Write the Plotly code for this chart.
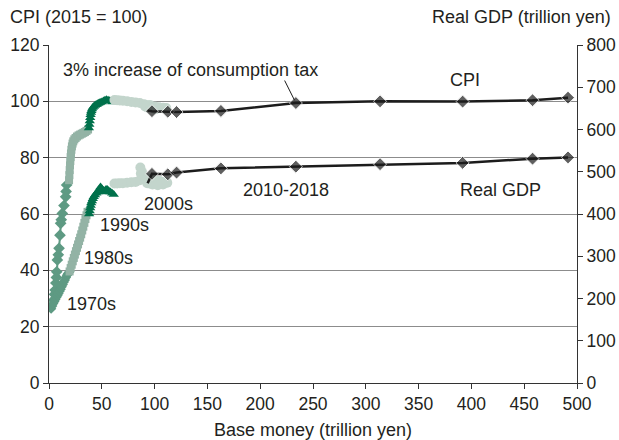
import plotly.graph_objects as go

# ---------------- data ----------------
# 1970s
base70_cpi = [4.5, 5.2, 5.8, 6.5, 7.0, 7.3, 7.9, 8.8, 9.5, 10.4, 11.0, 11.6, 12.6, 14.2, 15.8, 16.2, 16.7]
cpi70 = [29.5, 31.5, 33.0, 35.5, 37.5, 39.5, 43.7, 45.5, 47.8, 52.5, 56.7, 58.0, 60.2, 63.0, 66.1, 68.0, 70.3]
base70_gdp = [2.0, 3.0, 4.0, 5.0, 6.0, 7.0, 8.0, 9.0, 10.0, 11.0, 12.0, 13.0, 14.0, 15.0, 16.0, 17.0, 18.0, 19.0]
gdp70 = [176, 182, 188, 193, 198, 203, 207, 212, 217, 222, 228, 233, 239, 244, 250, 255, 259, 262]

# 1980s
base80_cpi = [19.0, 19.3, 19.6, 19.9, 20.2, 20.5, 20.8, 21.2, 21.7, 22.3, 23.0, 24.0, 25.2, 26.5, 28.0, 29.5, 31.0, 32.5, 34.0, 35.5, 37.0]
cpi80 = [72.0, 73.8, 75.6, 77.3, 78.8, 80.2, 81.5, 82.8, 84.0, 85.0, 85.8, 86.5, 87.0, 87.5, 87.9, 88.2, 88.5, 88.8, 89.1, 89.5, 90.0]
base80_gdp = [19.5, 20.5, 21.5, 22.5, 23.5, 24.5, 25.5, 26.5, 27.5, 28.5, 29.5, 30.5, 31.5, 32.5, 33.5, 34.5, 35.5, 36.5]
gdp80 = [264, 272, 280, 288, 296, 304, 312, 320, 328, 336, 344, 352, 361, 370, 379, 388, 397, 405]

# 1990s
base90_cpi = [37.8, 38.2, 38.6, 39.0, 39.4, 39.8, 40.2, 40.8, 41.5, 42.5, 43.5, 44.5, 45.5, 46.5, 47.5, 48.5, 50.0, 51.5, 53.0, 54.5, 56.0, 57.5, 59.0, 60.0]
cpi90 = [90.5, 91.8, 93.0, 94.2, 95.2, 96.0, 96.7, 97.3, 97.8, 98.2, 98.5, 98.8, 99.0, 99.2, 99.4, 99.6, 99.8, 100.1, 100.4, 100.6, 100.4, 100.2, 100.0, 99.8]
base90_gdp = [38.0, 38.5, 39.0, 39.5, 40.0, 40.7, 41.5, 42.4, 43.5, 44.8, 46.0, 47.2, 48.0, 48.8, 50.0, 51.0, 51.9, 53.0, 54.0, 55.1, 56.5, 58.2, 59.8, 61.3]
gdp90 = [400, 407, 414, 420, 426, 431, 436, 441, 445, 449, 452, 456, 460, 464, 460, 456, 452, 455, 458, 458, 455, 452, 449, 446]

# 2000s
base00_cpi = [62.0, 64.5, 67.0, 70.0, 74.0, 78.0, 82.0, 86.0, 90.0, 95.0, 100.0, 104.0, 108.0, 111.0, 109.0, 104.0, 98.0, 93.0, 91.0, 92.5, 96.0, 99.0, 101.0]
cpi00 = [100.5, 100.4, 100.3, 100.2, 100.0, 99.8, 99.6, 99.4, 99.0, 98.6, 98.2, 97.9, 97.7, 97.6, 97.5, 97.6, 97.7, 97.8, 98.2, 98.6, 98.6, 98.0, 97.2]
base00_gdp = [62.0, 64.5, 67.0, 70.0, 74.0, 78.0, 82.0, 86.0, 87.0, 86.5, 88.0, 90.0, 93.0, 97.0, 101.0, 105.0, 109.0, 112.0, 108.0, 103.0, 98.0, 95.0, 93.0]
gdp00 = [472, 472, 473, 473, 474, 475, 476, 480, 496, 510, 500, 488, 484, 482, 480, 478, 476, 474, 470, 468, 470, 472, 473]

# 2010-2018 (annual), first value = end of 2009 connector
years10 = ["2009", "2010", "2011", "2012", "2013", "2014", "2015", "2016", "2017", "2018"]
base10 = [93.4, 97.5, 112.5, 120.8, 162.8, 233.8, 313.5, 391.7, 457.9, 491.5]
cpi10 = [96.7, 96.5, 96.3, 96.2, 96.6, 99.4, 100.0, 99.9, 100.4, 101.3]
gdp10 = [473, 495, 494, 498, 508, 512, 518, 521, 531, 534]

# ---------------- styles ----------------
C70 = "#5e9a83"
C80 = "#93b3a5"
C90 = "#00714b"
C00 = "#c3d5cc"
CBK = "#1c1c1c"
FONT = "Liberation Sans, Arial, sans-serif"
TXT = "#231f20"

fig = go.Figure()

def add(x, y, color, symbol, size, axis, lw=2):
    fig.add_trace(go.Scatter(
        x=x, y=y, mode="lines+markers", yaxis=axis,
        line=dict(color=color, width=lw),
        marker=dict(color=color, symbol=symbol, size=size, line=dict(width=0)),
        showlegend=False, hoverinfo="skip"))

add(base70_gdp, gdp70, C70, "diamond", 8, "y2")
add(base70_cpi, cpi70, C70, "diamond", 9, "y")
add(base80_gdp, gdp80, C80, "square", 8, "y2")
add(base80_cpi, cpi80, C80, "square", 8, "y")
add(base90_gdp, gdp90, C90, "triangle-up", 9, "y2")
add(base90_cpi, cpi90, C90, "triangle-up", 9, "y")
add(base00_gdp, gdp00, C00, "circle", 10, "y2")
add(base00_cpi, cpi00, C00, "circle", 10, "y")

sizes10 = [0] + [10] * (len(base10) - 1)
fig.add_trace(go.Scatter(x=base10, y=gdp10, yaxis="y2", mode="lines+markers",
                         line=dict(color=CBK, width=2.5),
                         marker=dict(color=CBK, symbol="diamond", size=sizes10),
                         showlegend=False, text=years10, hoverinfo="text"))
fig.add_trace(go.Scatter(x=base10, y=cpi10, yaxis="y", mode="lines+markers",
                         line=dict(color=CBK, width=2.5),
                         marker=dict(color=CBK, symbol="diamond", size=sizes10),
                         showlegend=False, text=years10, hoverinfo="text"))

ann = []
def txt(x, y, s, xanchor="left", xref="x", yref="y", size=18):
    ann.append(dict(x=x, y=y, xref=xref, yref=yref, text=s, showarrow=False,
                    xanchor=xanchor, yanchor="middle",
                    font=dict(family=FONT, size=size, color=TXT)))

txt(10.9, 111.1, "3% increase of consumption tax")
txt(394, 107.6, "CPI", xanchor="center")
txt(387, 68.5, "Real GDP")
txt(182, 68.5, "2010-2018")
txt(88.4, 63.7, "2000s")
txt(46.8, 56.0, "1990s")
txt(31.7, 44.5, "1980s")
txt(15.6, 28.1, "1970s")
txt(-0.077, 1.083, "CPI (2015 = 100)", xref="paper", yref="paper")
txt(1.068, 1.083, "Real GDP (trillion yen)", xanchor="right", xref="paper", yref="paper")
ann.append(dict(x=0.5, y=-0.14, xref="paper", yref="paper", text="Base money (trillion yen)",
                showarrow=False, xanchor="center", yanchor="middle",
                font=dict(family=FONT, size=18, color=TXT)))
# pointer to 2014 consumption tax increase
i14 = years10.index("2014")
ann.append(dict(x=base10[i14], y=cpi10[i14], xref="x", yref="y", text="",
                showarrow=True, arrowhead=0, arrowwidth=1, arrowcolor=CBK,
                ax=-12, ay=-24, standoff=3))

axis_common = dict(showline=True, linecolor="#333333", linewidth=1.2,
                   ticks="outside", ticklen=5, tickcolor="#333333", automargin=False,
                   tickfont=dict(family=FONT, size=17.5, color=TXT), zeroline=False)

fig.update_layout(
    width=619, height=440,
    margin=dict(l=48.5, r=42, t=45, b=57),
    paper_bgcolor="white", plot_bgcolor="white",
    xaxis=dict(range=[0, 500], dtick=50, showgrid=False, **axis_common),
    yaxis=dict(range=[0, 120], dtick=20, showgrid=True, gridcolor="#8c8c8c", gridwidth=1, **axis_common),
    yaxis2=dict(range=[0, 800], dtick=100, overlaying="y", side="right", showgrid=False, **axis_common),
    annotations=ann,
)

fig.write_html("out.html", config={"displayModeBar": False},
               post_script="document.body.style.margin='0';document.body.style.overflow='hidden';")
